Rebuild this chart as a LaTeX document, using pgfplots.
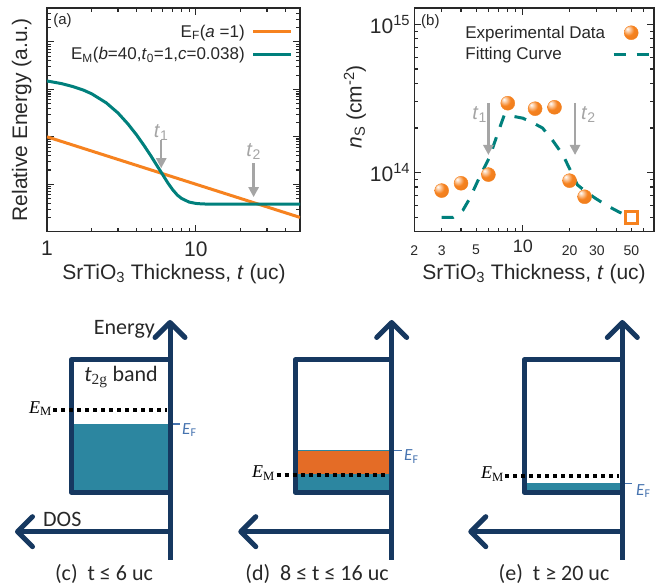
\documentclass[border=0pt]{standalone}
\usepackage{pgfplots}
\pgfplotsset{compat=1.18}
\usepackage{fontspec}
\setmainfont{Liberation Sans}
\newfontfamily\calib{Carlito}
\newfontfamily\tnr{Liberation Serif}
\usetikzlibrary{arrows.meta}
\definecolor{myorange}{RGB}{246,130,31}
\definecolor{myteal}{RGB}{0,128,124}
\definecolor{arrgray}{RGB}{165,165,165}
\definecolor{txt}{RGB}{40,40,40}
\definecolor{navy}{RGB}{22,56,96}
\definecolor{fillteal}{RGB}{44,134,160}
\definecolor{fillorange}{RGB}{228,108,38}
\definecolor{efblue}{RGB}{70,115,175}
\newcommand{\fs}[1]{\fontsize{#1}{#1}\selectfont}
\pgfdeclareradialshading{oball}{\pgfpoint{-14bp}{14bp}}{color(0bp)=(white); color(6bp)=(white!70!myorange); color(20bp)=(myorange); color(50bp)=(myorange!93!black); color(80bp)=(myorange!88!black)}
\pgfdeclareplotmark{oball}{\shade[shading=oball] (0pt,0pt) circle (\pgfplotmarksize);}
\begin{document}
\begin{tikzpicture}[x=1pt,y=1pt]
\useasboundingbox (0,0) rectangle (661,588);
% ---------------- panel (a)
\begin{axis}[scale only axis, xmode=log, ymode=log, anchor=south west,
  axis line style={draw=txt, line width=1.3pt},
  every tick/.style={draw=txt, line width=1.1pt},
  major tick length=7pt, minor tick length=4pt,
  tick align=inside,
  tick label style={text=txt},
  label style={text=txt, font=\fs{21}},
  at={(47pt,356.3pt)}, width=253pt, height=223.7pt,
  xmin=1, xmax=50, ymin=0.01, ymax=519,
  xtick={1,10}, xticklabels={1,10},
  minor xtick={2,3,4,5,6,7,8,9,20,30,40},
  xticklabel style={font=\fs{21}, inner sep=0pt, yshift=-9.5pt},
  ytick={0.01,0.1,1,10,100}, yticklabels={},
  minor ytick={0.02,0.03,0.04,0.05,0.06,0.07,0.08,0.09,0.2,0.3,0.4,0.5,0.6,0.7,0.8,0.9,2,3,4,5,6,7,8,9,20,30,40,50,60,70,80,90,200,300,400,500},
  xlabel={SrTiO\textsubscript{3} Thickness, \textit{t} (uc)},
  xlabel style={at={(axis description cs:0.502,-0.2128)}, anchor=base},
  ylabel={Relative Energy (a.u.)},
  ylabel style={at={(axis description cs:-0.1,0.5)}, anchor=center},
  legend style={at={(axis description cs:0.972,0.935)}, anchor=north east, draw=none, fill=none, font=\fs{17}, text=txt, inner sep=0pt, row sep=5pt, column sep=5pt},
  legend cell align=right, legend plot pos=right,
  legend image code/.code={\draw[#1] (0pt,0pt) -- (38pt,0pt);},
]
\addplot[myorange, line width=3pt] coordinates {(1,1) (50,0.02)};
\addlegendentry{E\textsubscript{F}(\textit{a} =1)}
\addplot[myteal, line width=3pt] coordinates {(1,15.04)(1.25,13.24)(1.5,11.40)(1.75,9.70)(2,8.04)(2.5,5.20)(3,3.17)(3.5,1.86)(4,1.09)(4.5,0.645)(5,0.391)(5.5,0.242)(6,0.157)(6.5,0.105)(7,0.076)(7.5,0.0593)(8,0.0503)(9,0.0421)(10,0.0394)(11,0.0385)(12,0.0382)(15,0.038)(50,0.038)};
\addlegendentry{E\textsubscript{M}(\textit{b}=40,\textit{t}\textsubscript{0}=1,\textit{c}=0.038)}
\addplot[arrgray, line width=2.5pt, -{Triangle[length=10pt,width=10pt]}, forget plot] coordinates {(5.85,0.851) (5.85,0.218)};
\addplot[arrgray, line width=2.5pt, -{Triangle[length=10pt,width=10pt]}, forget plot] coordinates {(24.4,0.278) (24.4,0.0535)};
\node[text=arrgray, font=\fs{20}] at (axis cs:5.85,1.25) {\textit{t}\textsubscript{1}};
\node[text=arrgray, font=\fs{20}] at (axis cs:24.4,0.49) {\textit{t}\textsubscript{2}};
\node[anchor=north west, font=\fs{15}, text=txt, inner sep=0pt] at (axis description cs:0.024,0.975) {(a)};
\end{axis}
% ---------------- panel (b)
\begin{axis}[scale only axis, xmode=log, ymode=log, anchor=south west,
  axis line style={draw=txt, line width=1.3pt},
  every tick/.style={draw=txt, line width=1.1pt},
  major tick length=7pt, minor tick length=4pt,
  tick align=inside,
  tick label style={text=txt},
  label style={text=txt, font=\fs{21}},
  at={(414.3pt,356.3pt)}, width=239.7pt, height=223.7pt,
  xmin=2, xmax=70, ymin=4e13, ymax=1.29e15,
  xtick={10}, xticklabels={10},
  xticklabel style={font=\fs{18}, inner sep=0pt, yshift=-8pt},
  extra x ticks={2,3,5,20,30,50}, extra x tick labels={2,3,5,20,30,50},
  extra x tick style={major tick length=4pt, xticklabel style={font=\fs{14}, inner sep=0pt, yshift=-5.5pt}},
  minor xtick={4,6,7,8,9,40,60},
  ytick={1e14,1e15}, yticklabels={10\textsuperscript{14},10\textsuperscript{15}},
  yticklabel style={font=\fs{21}, inner sep=0pt, xshift=-4pt},
  minor ytick={5e13,6e13,7e13,8e13,9e13,2e14,3e14,4e14,5e14,6e14,7e14,8e14,9e14},
  xlabel={SrTiO\textsubscript{3} Thickness, \textit{t} (uc)},
  xlabel style={at={(axis description cs:0.4995,-0.2128)}, anchor=base},
  ylabel={\textit{n}\textsubscript{S} (cm\textsuperscript{-2})},
  ylabel style={at={(axis description cs:-0.2474,0.5574)}, anchor=center},
  legend style={at={(axis description cs:0.985,0.93)}, anchor=north east, draw=none, fill=none, font=\fs{17}, text=txt, inner sep=0pt, row sep=4pt, column sep=5pt},
  legend cell align=left, legend plot pos=right, reverse legend,
  legend image code/.code={\draw[mark repeat=2,mark phase=2,#1] plot coordinates {(0pt,0pt)(17.5pt,0pt)(35pt,0pt)};},
]
\addplot[myteal, line width=3pt, dash pattern=on 12pt off 11pt] coordinates {(3,5.0e13)(3.56,5.0e13)(4.12,5.6e13)(4.55,6.7e13)(5.28,9.4e13)(6.12,1.28e14)(6.9,1.85e14)(7.6,2.45e14)(8.45,2.41e14)(10,2.33e14)(11.6,2.17e14)(13.4,2.0e14)(15.5,1.66e14)(18.1,1.32e14)(20.4,1.02e14)(22.5,8.26e13)(25.5,7.45e13)(29.3,6.72e13)(35,5.98e13)(41.9,5.41e13)(50,5.0e13)};
\addlegendentry{Fitting Curve}
\addplot[only marks, color=myorange, mark=oball, mark size=7pt] coordinates {(3,7.57e13)(4,8.48e13)(6,9.7e13)(8,2.94e14)(12,2.70e14)(16,2.76e14)(20,8.83e13)(25,6.88e13)};
\addlegendentry{Experimental Data}
\addplot[only marks, mark=square, mark size=6pt, draw=myorange, line width=2.5pt, forget plot] coordinates {(50,5e13)};
\addplot[arrgray, line width=2.5pt, -{Triangle[length=10pt,width=10pt]}, forget plot] coordinates {(6.0,2.95e14) (6.0,1.316e14)};
\addplot[arrgray, line width=2.5pt, -{Triangle[length=10pt,width=10pt]}, forget plot] coordinates {(21.7,2.95e14) (21.7,1.316e14)};
\node[text=arrgray, font=\fs{20}] at (axis cs:5.27,2.45e14) {\textit{t}\textsubscript{1}};
\node[text=arrgray, font=\fs{20}] at (axis cs:26.4,2.45e14) {\textit{t}\textsubscript{2}};
\node[anchor=north west, font=\fs{15}, text=txt, inner sep=0pt] at (axis description cs:0.028,0.973) {(b)};
\end{axis}
% ---------------- schematic panels (c)-(e)
\begin{axis}[at={(0pt,0pt)}, anchor=south west, scale only axis, width=661pt, height=588pt,
  xmin=0, xmax=661, ymin=0, ymax=588, hide axis, clip=false]
% (c)
\addplot[draw=none, fill=fillteal] coordinates {(71.2,164)(170,164)(170,95.8)(71.2,95.8)} -- cycle;
\addplot[navy, line width=5pt, line join=round] coordinates {(170,228)(71.2,228)(71.2,95.8)(170,95.8)};
\addplot[black, line width=4pt, dash pattern=on 4pt off 4pt] coordinates {(53.3,178)(166.7,178)};
\addplot[navy, line width=5pt, -{Straight Barb[length=15pt,width=30pt,round]}] coordinates {(170,28)(170,268)};
\addplot[navy, line width=5pt, -{Straight Barb[length=15pt,width=30pt,round]}] coordinates {(170,56.3)(15,56.3)};
\addplot[efblue, line width=1.3pt] coordinates {(172.5,164)(180,164)};
% (d)
\addplot[draw=none, fill=fillorange] coordinates {(295.2,137.3)(391.7,137.3)(391.7,114)(295.2,114)} -- cycle;
\addplot[draw=none, fill=fillteal] coordinates {(295.2,114)(391.7,114)(391.7,95.8)(295.2,95.8)} -- cycle;
\addplot[fillteal, line width=1pt] coordinates {(295.2,137.3)(391.7,137.3)};
\addplot[navy, line width=5pt, line join=round] coordinates {(391.7,228)(295.2,228)(295.2,95.8)(391.7,95.8)};
\addplot[black, line width=4pt, dash pattern=on 4pt off 4pt] coordinates {(276.7,113.3)(389,113.3)};
\addplot[navy, line width=5pt, -{Straight Barb[length=15pt,width=30pt,round]}] coordinates {(391.7,28)(391.7,268)};
\addplot[navy, line width=5pt, -{Straight Barb[length=15pt,width=30pt,round]}] coordinates {(391.7,56.3)(238.3,56.3)};
\addplot[efblue, line width=1.3pt] coordinates {(394,137.3)(402,137.3)};
% (e)
\addplot[draw=none, fill=fillteal] coordinates {(524.2,105.3)(622.3,105.3)(622.3,95.8)(524.2,95.8)} -- cycle;
\addplot[navy, line width=5pt, line join=round] coordinates {(622.3,228)(524.2,228)(524.2,95.8)(622.3,95.8)};
\addplot[black, line width=4pt, dash pattern=on 4pt off 4pt] coordinates {(505,112.3)(619,112.3)};
\addplot[navy, line width=5pt, -{Straight Barb[length=15pt,width=30pt,round]}] coordinates {(622.3,28)(622.3,268)};
\addplot[navy, line width=5pt, -{Straight Barb[length=15pt,width=30pt,round]}] coordinates {(622.3,56.3)(468.3,56.3)};
\addplot[efblue, line width=1.3pt] coordinates {(624.5,104.7)(632,104.7)};
% texts
\node[anchor=base east, font=\calib\fs{22}, text=txt, inner sep=0pt] at (axis cs:155,253) {Energy};
\node[anchor=base west, font=\calib\fs{22}, text=txt, inner sep=0pt] at (axis cs:43,61) {DOS};
\node[font=\calib\fs{22}, text=txt] at (axis cs:121,211) {\textit{t}\textsubscript{\tnr 2g} band};
\node[anchor=east, font=\tnr\fs{18}, inner sep=0pt] at (axis cs:52,179.5) {\textit{E}\textsubscript{M}};
\node[anchor=east, font=\tnr\fs{18}, inner sep=0pt] at (axis cs:275,114.8) {\textit{E}\textsubscript{M}};
\node[anchor=east, font=\tnr\fs{18}, inner sep=0pt] at (axis cs:504,113.8) {\textit{E}\textsubscript{M}};
\node[anchor=west, font=\calib\fs{17}, text=efblue, inner sep=0pt] at (axis cs:182,158) {\textit{E}\textsubscript{F}};
\node[anchor=west, font=\calib\fs{17}, text=efblue, inner sep=0pt] at (axis cs:404,131.5) {\textit{E}\textsubscript{F}};
\node[anchor=west, font=\calib\fs{17}, text=efblue, inner sep=0pt] at (axis cs:636,97) {\textit{E}\textsubscript{F}};
\node[font=\calib\fs{22}, text=txt] at (axis cs:104,14) {(c)\ \ t ≤ 6 uc};
\node[font=\calib\fs{22}, text=txt] at (axis cs:317,14) {(d)\ \ 8 ≤ t ≤ 16 uc};
\node[font=\calib\fs{22}, text=txt] at (axis cs:554,14) {(e)\ \ t ≥ 20 uc};
\end{axis}
\end{tikzpicture}
\end{document}
